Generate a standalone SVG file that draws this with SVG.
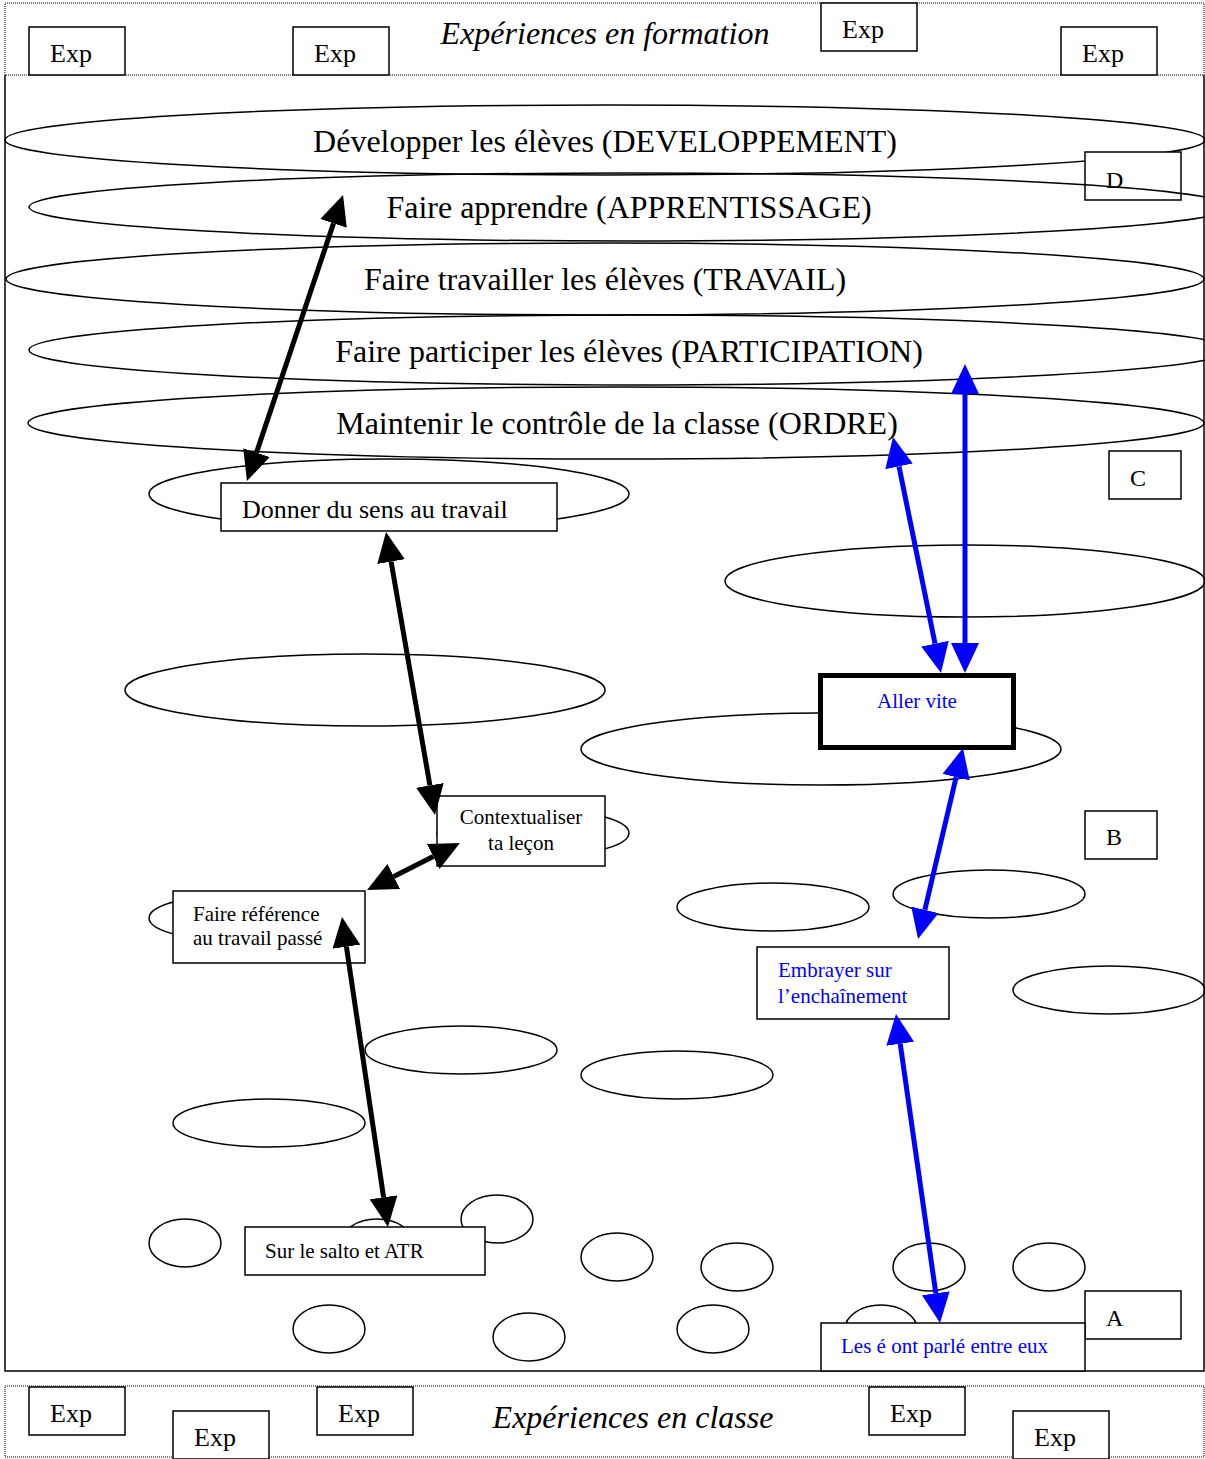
<svg xmlns="http://www.w3.org/2000/svg" width="1205" height="1459" viewBox="0 0 1205 1459">
<style>
.band{fill:none;stroke:#000;stroke-width:1;stroke-dasharray:1 1}
.frame{fill:none;stroke:#000;stroke-width:1.5}
.ell{fill:none;stroke:#000;stroke-width:1.5}
.box{fill:#fff;stroke:#000;stroke-width:1.5}
.thick{fill:#fff;stroke:#000;stroke-width:5}
.t{font-family:"Liberation Serif","Times New Roman",serif;fill:#000}
.big{font-size:32px}
.exp{font-size:26px}
.title{font-size:32px;font-style:italic}
.sm{font-size:21px}
.blue{fill:#0000ff}
.lbl{font-size:24px}
.ab{stroke:#000;stroke-width:5;fill:none}
.au{stroke:#0000ff;stroke-width:5;fill:none}
</style>
<defs>
<marker id="hb" viewBox="0 0 30 28" refX="0" refY="14" markerWidth="30" markerHeight="28" markerUnits="userSpaceOnUse" orient="auto-start-reverse"><path d="M0,0 L30,14 L0,28 Z" fill="#000"/></marker>
<marker id="hu" viewBox="0 0 30 28" refX="0" refY="14" markerWidth="30" markerHeight="28" markerUnits="userSpaceOnUse" orient="auto-start-reverse"><path d="M0,0 L30,14 L0,28 Z" fill="#0000ff"/></marker>
</defs>
<rect x="0" y="0" width="1205" height="1459" fill="#fff"/>

<g id="bands">
<rect class="band" x="5" y="3" width="1199" height="72"/>
<rect class="band" x="5" y="1386" width="1199" height="71"/>
<path class="frame" d="M5,75 V1371 H1204 V75"/>
</g>

<g id="top-band">
<g id="exp-t1"><rect class="box" x="29" y="27" width="96" height="48"/><text class="t exp" x="50" y="62">Exp</text></g>
<g id="exp-t2"><rect class="box" x="293" y="27" width="96" height="48"/><text class="t exp" x="314" y="62">Exp</text></g>
<g id="exp-t3"><rect class="box" x="821" y="3" width="96" height="48"/><text class="t exp" x="842" y="38">Exp</text></g>
<g id="exp-t4"><rect class="box" x="1061" y="27" width="96" height="48"/><text class="t exp" x="1082" y="62">Exp</text></g>
<text class="t title" x="605" y="44" text-anchor="middle">Expériences en formation</text>
</g>

<g id="bottom-band">
<g id="exp-b1"><rect class="box" x="29" y="1387" width="96" height="48"/><text class="t exp" x="50" y="1422">Exp</text></g>
<g id="exp-b2"><rect class="box" x="173" y="1411" width="96" height="48"/><text class="t exp" x="194" y="1446">Exp</text></g>
<g id="exp-b3"><rect class="box" x="317" y="1387" width="96" height="48"/><text class="t exp" x="338" y="1422">Exp</text></g>
<g id="exp-b4"><rect class="box" x="869" y="1387" width="96" height="48"/><text class="t exp" x="890" y="1422">Exp</text></g>
<g id="exp-b5"><rect class="box" x="1013" y="1411" width="96" height="48"/><text class="t exp" x="1034" y="1446">Exp</text></g>
<text class="t title" x="633" y="1428" text-anchor="middle">Expériences en classe</text>
</g>

<g id="level-developpement"><ellipse class="ell" cx="605" cy="140" rx="600" ry="35"/><text class="t big" x="605" y="152" text-anchor="middle">Développer les élèves (DEVELOPPEMENT)</text></g>
<g id="label-D"><rect class="box" x="1085" y="152" width="96" height="48"/><text class="t lbl" x="1106" y="188">D</text></g>
<g id="level-apprentissage"><ellipse class="ell" cx="630" cy="207" rx="601" ry="34"/><text class="t big" x="629" y="218" text-anchor="middle">Faire apprendre (APPRENTISSAGE)</text></g>
<g id="level-travail"><ellipse class="ell" cx="605" cy="279" rx="599" ry="36"/><text class="t big" x="605" y="290" text-anchor="middle">Faire travailler les élèves (TRAVAIL)</text></g>
<g id="level-participation"><ellipse class="ell" cx="630" cy="350" rx="601" ry="35"/><text class="t big" x="629" y="362" text-anchor="middle">Faire participer les élèves (PARTICIPATION)</text></g>
<g id="level-ordre"><ellipse class="ell" cx="616" cy="423" rx="588" ry="36"/><text class="t big" x="617" y="434" text-anchor="middle">Maintenir le contrôle de la classe (ORDRE)</text></g>
<g id="label-C"><rect class="box" x="1109" y="451" width="72" height="48"/><text class="t lbl" x="1130" y="486">C</text></g>
<g id="label-B"><rect class="box" x="1085" y="811" width="72" height="48"/><text class="t lbl" x="1106" y="845">B</text></g>
<g id="label-A"><rect class="box" x="1085" y="1291" width="96" height="48"/><text class="t lbl" x="1106" y="1326">A</text></g>

<g id="empty-ellipses">
<ellipse class="ell" cx="965" cy="581" rx="240" ry="36"/>
<ellipse class="ell" cx="365" cy="690" rx="240" ry="36"/>
<ellipse class="ell" cx="773" cy="907" rx="96" ry="24"/>
<ellipse class="ell" cx="989" cy="894" rx="96" ry="24"/>
<ellipse class="ell" cx="1109" cy="990" rx="96" ry="24"/>
<ellipse class="ell" cx="461" cy="1050" rx="96" ry="24"/>
<ellipse class="ell" cx="677" cy="1075" rx="96" ry="24"/>
<ellipse class="ell" cx="269" cy="1123" rx="96" ry="24"/>
<ellipse class="ell" cx="185" cy="1243" rx="36" ry="24"/>
<ellipse class="ell" cx="497" cy="1219" rx="36" ry="24"/>
<ellipse class="ell" cx="617" cy="1257" rx="36" ry="24"/>
<ellipse class="ell" cx="737" cy="1267" rx="36" ry="24"/>
<ellipse class="ell" cx="929" cy="1267" rx="36" ry="24"/>
<ellipse class="ell" cx="1049" cy="1267" rx="36" ry="24"/>
<ellipse class="ell" cx="329" cy="1329" rx="36" ry="24"/>
<ellipse class="ell" cx="529" cy="1337" rx="36" ry="24"/>
<ellipse class="ell" cx="713" cy="1329" rx="36" ry="24"/>
</g>

<g id="node-donner-sens">
<ellipse class="ell" cx="389" cy="494" rx="240" ry="35"/>
<rect class="box" x="221" y="483" width="336" height="48"/>
<text class="t exp" x="242" y="518">Donner du sens au travail</text>
</g>
<g id="node-aller-vite">
<ellipse class="ell" cx="821" cy="749" rx="240" ry="36"/>
<rect class="thick" x="820.5" y="675.5" width="193" height="72"/>
<text class="t sm blue" x="917" y="708" text-anchor="middle">Aller vite</text>
</g>
<g id="node-contextualiser">
<ellipse class="ell" cx="533" cy="833" rx="96" ry="24"/>
<rect class="box" x="437" y="796" width="168" height="70"/>
<text class="t sm" x="521" y="824" text-anchor="middle">Contextualiser</text>
<text class="t sm" x="521" y="850" text-anchor="middle">ta leçon</text>
</g>
<g id="node-faire-reference">
<ellipse class="ell" cx="245" cy="918" rx="96" ry="24"/>
<rect class="box" x="173" y="891" width="192" height="72"/>
<text class="t sm" x="193" y="921">Faire référence</text>
<text class="t sm" x="193" y="945">au travail passé</text>
</g>
<g id="node-embrayer">
<rect class="box" x="757" y="947" width="192" height="72"/>
<text class="t sm blue" x="778" y="977">Embrayer sur</text>
<text class="t sm blue" x="778" y="1003">l’enchaînement</text>
</g>
<g id="node-salto">
<ellipse class="ell" cx="377" cy="1243" rx="36" ry="24"/>
<rect class="box" x="245" y="1227" width="240" height="48"/>
<text class="t sm" x="265" y="1258">Sur le salto et ATR</text>
</g>
<g id="node-parle">
<ellipse class="ell" cx="881" cy="1329" rx="36" ry="24"/>
<rect class="box" x="821" y="1323" width="264" height="48"/>
<text class="t sm blue" x="841" y="1353">Les é ont parlé entre eux</text>
</g>

<g id="connectors">
<line class="ab" x1="333.5" y1="223.4" x2="256.5" y2="452.6" marker-start="url(#hb)" marker-end="url(#hb)"/>
<line class="ab" x1="391.1" y1="561.6" x2="429.9" y2="785.4" marker-start="url(#hb)" marker-end="url(#hb)"/>
<line class="ab" x1="433.2" y1="856.5" x2="393.8" y2="876.5" marker-start="url(#hb)" marker-end="url(#hb)"/>
<line class="ab" x1="346.4" y1="946.7" x2="383.6" y2="1197.3" marker-start="url(#hb)" marker-end="url(#hb)"/>
<line class="au" x1="899" y1="466.4" x2="935" y2="643.6" marker-start="url(#hu)" marker-end="url(#hu)"/>
<line class="au" x1="965" y1="394" x2="965" y2="643" marker-start="url(#hu)" marker-end="url(#hu)"/>
<line class="au" x1="956.1" y1="777.2" x2="924.9" y2="909.8" marker-start="url(#hu)" marker-end="url(#hu)"/>
<line class="au" x1="900.2" y1="1043.7" x2="935.8" y2="1293.3" marker-start="url(#hu)" marker-end="url(#hu)"/>
</g>
</svg>
